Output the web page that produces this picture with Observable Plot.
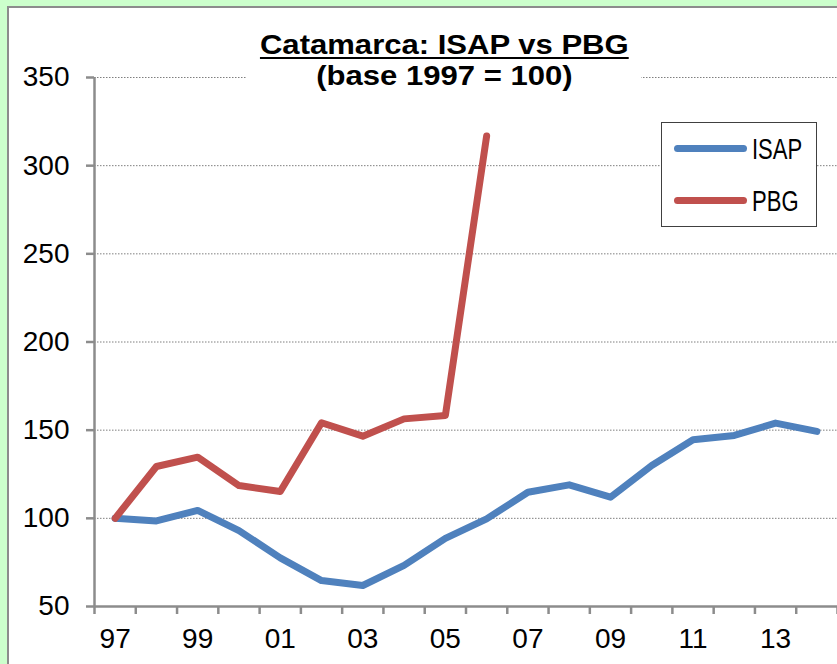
<!DOCTYPE html>
<html><head><meta charset="utf-8">
<script src="https://cdn.jsdelivr.net/npm/d3@7"></script>
<script src="https://cdn.jsdelivr.net/npm/@observablehq/plot@0.6"></script>
<style>
html,body{margin:0;padding:0}
body{background:#ccffcc;width:837px;height:664px;overflow:hidden;position:relative;font-family:"Liberation Sans",Arial,sans-serif}
#panel{position:absolute;left:7px;top:6px;width:840px;height:670px;background:#fff;border-left:2px solid #8c8c8c;border-top:2px solid #8c8c8c}
#chart{position:absolute;left:0;top:0}
.tbox{position:absolute;left:247px;top:28px;width:394px;height:66px;background:#fff}
.tline{position:absolute;left:247px;width:394px;text-align:center;font-weight:bold;color:#000;font-size:27px;line-height:27px;white-space:nowrap}
.tline span{display:inline-block;transform:scaleX(1.15);transform-origin:center}
#t1 span{text-decoration:underline;text-decoration-thickness:2px;text-underline-offset:3px}
#legend{position:absolute;left:661px;top:122px;width:154px;height:103px;background:#fff;border:1.5px solid #404040}
.sw{position:absolute;left:12px;width:73px;height:7px;border-radius:4px}
.lt{position:absolute;left:90px;font-size:29px;line-height:29px;color:#000;transform:scaleX(0.76);transform-origin:left;white-space:nowrap}
</style>
</head><body>
<div id="panel"></div>
<div id="chart"></div>
<div class="tbox"></div>
<div class="tline" id="t1" style="top:32px"><span>Catamarca: ISAP vs PBG</span></div>
<div class="tline" id="t2" style="top:63px"><span>(base 1997 = 100)</span></div>
<div id="legend"></div>
<script>
const years = [1997,1998,1999,2000,2001,2002,2003,2004,2005,2006,2007,2008,2009,2010,2011,2012,2013,2014];
const isap = [100,98.5,104.5,93,77.6,64.7,61.9,73.3,88.6,99.7,114.8,119,112,130,144.6,147,154,149.3];
const pbgYears = [1997,1998,1999,2000,2001,2002,2003,2004,2005,2006];
const pbg = [100,129.4,134.7,118.6,115.2,154.2,146.6,156.4,158.3,316.8];
const seriesNames = ["ISAP","PBG"];
const seriesColors = ["#4F81BD","#C0504D"];
const yTicks = [50,100,150,200,250,300,350];
const xLabelYears = [1997,1999,2001,2003,2005,2007,2009,2011,2013];
const xLabels = ["97","99","01","03","05","07","09","11","13"];

const rows = [
  ...years.map((y,i)=>({year:y, value:isap[i], series:"ISAP"})),
  ...pbgYears.map((y,i)=>({year:y, value:pbg[i], series:"PBG"}))
];
const bounds = d3.range(years.length+1).map(i => years[0]-0.5+i);

const chart = Plot.plot({
  width: 837, height: 664,
  marginLeft: 94, marginRight: 0, marginTop: 77, marginBottom: 58,
  style: {background:"transparent", fontFamily:"Liberation Sans, Arial, sans-serif", fontSize:"28px", color:"#000", overflow:"visible"},
  x: {type:"linear", domain:[years[0]-0.5, years[years.length-1]+0.5]},
  y: {domain:[50,350]},
  color: {domain: seriesNames, range: seriesColors},
  marks: [
    Plot.gridY(yTicks.slice(1), {stroke:"#7f7f7f", strokeOpacity:1, strokeWidth:1, strokeDasharray:"1.5,1.5"}),
    Plot.axisY(yTicks, {tickSize:8, tickPadding:17, stroke:"#8c8c8c", strokeWidth:2.5, fill:"#000", label:null, tickFormat:d=>String(d)}),
    Plot.axisX(bounds, {tickSize:8, stroke:"#8c8c8c", strokeWidth:2.5, tickFormat:()=>"", label:null}),
    Plot.axisX(xLabelYears, {tickSize:0, tickPadding:22, fill:"#000", label:null, tickFormat:(d)=>xLabels[xLabelYears.indexOf(d)]}),
    Plot.ruleX([years[0]-0.5], {stroke:"#8c8c8c", strokeWidth:2.5}),
    Plot.ruleY([50], {stroke:"#8c8c8c", strokeWidth:2.5}),
    Plot.line(rows, {x:"year", y:"value", z:"series", stroke:"series", strokeWidth:7, strokeLinejoin:"round", strokeLinecap:"round"})
  ]
});
document.getElementById("chart").appendChild(chart);

const leg = document.getElementById("legend");
const tops = [26, 78];
seriesNames.forEach((n,i)=>{
  const sw = document.createElement("div");
  sw.className = "sw"; sw.style.top = (tops[i]-4)+"px"; sw.style.background = seriesColors[i];
  leg.appendChild(sw);
  const t = document.createElement("div");
  t.className = "lt"; t.style.top = (tops[i]-14)+"px"; t.textContent = n;
  leg.appendChild(t);
});
</script>
</body></html>
